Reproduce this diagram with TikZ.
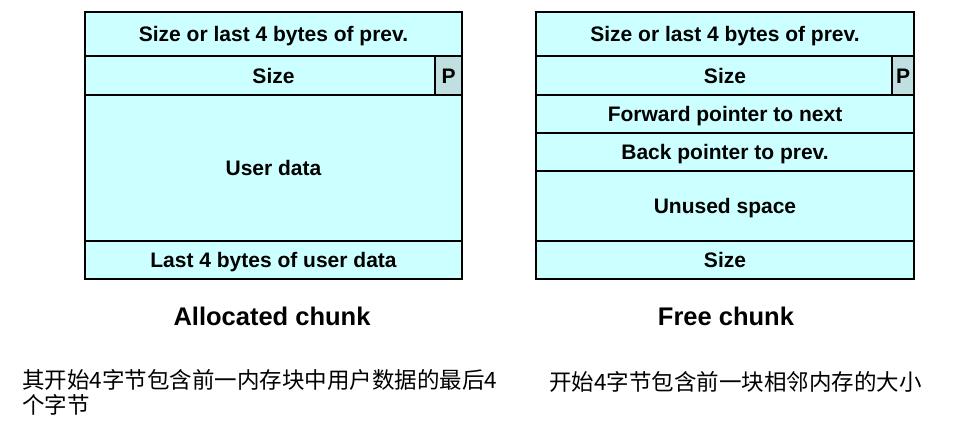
\documentclass[tikz,border=0pt]{standalone}
\usepackage{fontspec}
\setmainfont{Liberation Sans}
\newfontfamily\cjk{Noto Sans CJK SC}
\usetikzlibrary{positioning}
\definecolor{cellfill}{HTML}{CCFFFF}
\definecolor{pfill}{HTML}{BFDFE0}

\begin{document}
\begin{tikzpicture}[x=1pt,y=-1pt,
	cell/.style={draw,line width=1.6pt,fill=cellfill,inner sep=0pt,outer sep=0pt,
		text height=15.5pt,text depth=0pt,font=\fontsize{21}{24}\selectfont\bfseries},
	pbit/.style={cell,fill=pfill},
	caption/.style={font=\fontsize{25.5}{30}\selectfont\bfseries},
	note/.style={font=\cjk\fontsize{22.5}{25}\selectfont,align=left,inner sep=0pt}]
	\useasboundingbox (0,0) rectangle (969,438);
	% allocated chunk
	\node[cell,anchor=north west,minimum width=377pt,minimum height=44pt] (aprev) at (85,12) {Size or last 4 bytes of prev.};
	\node[cell,below=0pt of aprev.south west,anchor=north west,minimum width=377pt,minimum height=39pt] (asize) {Size};
	\node[pbit,left=0pt of asize.north east,anchor=north east,minimum width=27pt,minimum height=39pt] (ap) {P};
	\node[cell,below=0pt of asize.south west,anchor=north west,minimum width=377pt,minimum height=146pt] (adata) {User data};
	\node[cell,below=0pt of adata.south west,anchor=north west,minimum width=377pt,minimum height=38pt] (alast) {Last 4 bytes of user data};
	\node[caption] (alloclabel) at (272,316) {Allocated chunk};
	\node[note,anchor=north west] (allocnote) at (22,369) {其开始4字节包含前一内存块中用户数据的最后4\\个字节};
	% free chunk
	\node[cell,anchor=north west,minimum width=378pt,minimum height=44pt] (fprev) at (536,12) {Size or last 4 bytes of prev.};
	\node[cell,below=0pt of fprev.south west,anchor=north west,minimum width=378pt,minimum height=39pt] (fsize) {Size};
	\node[pbit,left=0pt of fsize.north east,anchor=north east,minimum width=22pt,minimum height=39pt] (fp) {P};
	\node[cell,below=0pt of fsize.south west,anchor=north west,minimum width=378pt,minimum height=38pt] (ffwd) {Forward pointer to next};
	\node[cell,below=0pt of ffwd.south west,anchor=north west,minimum width=378pt,minimum height=38pt] (fback) {Back pointer to prev.};
	\node[cell,below=0pt of fback.south west,anchor=north west,minimum width=378pt,minimum height=70pt] (funused) {Unused space};
	\node[cell,below=0pt of funused.south west,anchor=north west,minimum width=378pt,minimum height=38pt] (ftail) {Size};
	\node[caption] (freelabel) at (726,316) {Free chunk};
	\node[note,anchor=west] (freenote) at (549,382) {开始4字节包含前一块相邻内存的大小};
\end{tikzpicture}
\end{document}
